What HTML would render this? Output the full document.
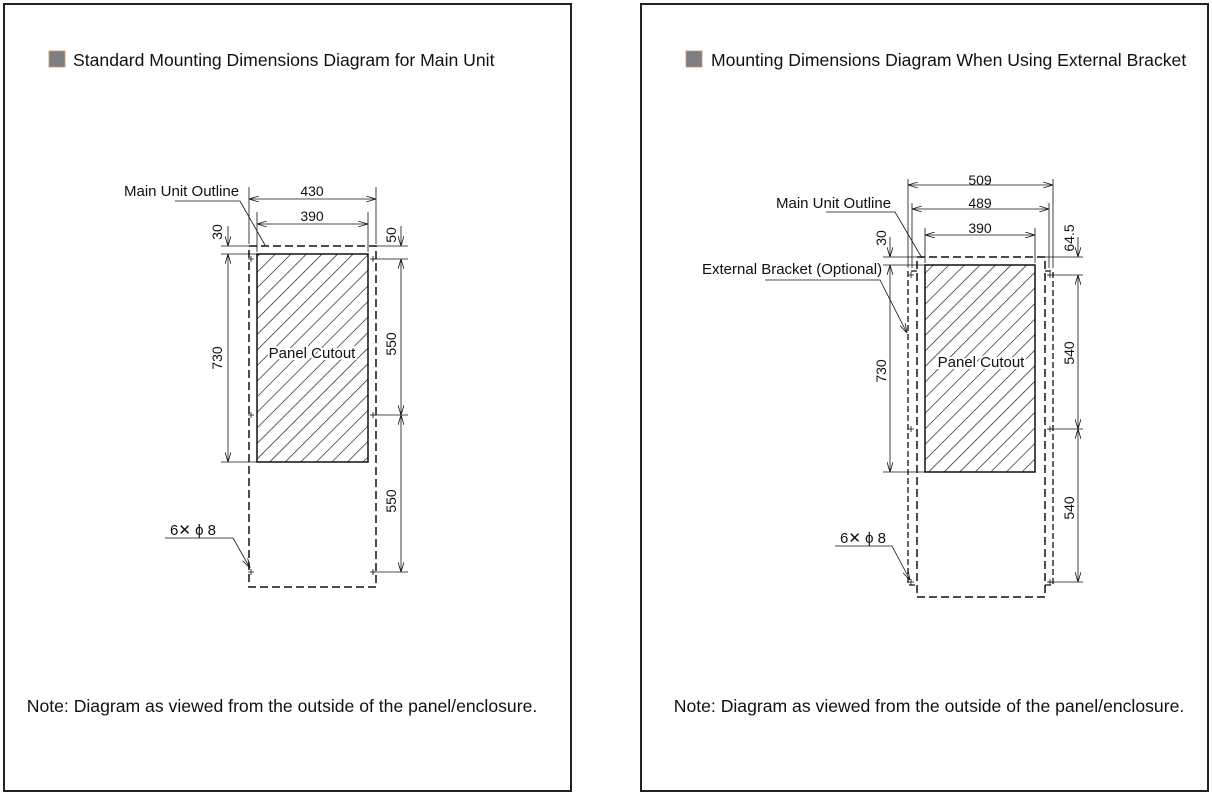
<!DOCTYPE html>
<html><head><meta charset="utf-8"><style>
html,body{margin:0;padding:0;background:#fff;}
svg{display:block;}
text{font-family:"Liberation Sans",sans-serif;fill:#111;}
.t{font-size:17.6px;}
.d{font-size:14px;}
.l{font-size:15px;}
</style></head><body>
<svg width="1212" height="794" viewBox="0 0 1212 794" xmlns="http://www.w3.org/2000/svg">
<defs>
<pattern id="h" patternUnits="userSpaceOnUse" width="11" height="11" patternTransform="rotate(45)">
<line x1="0" y1="0" x2="0" y2="11" stroke="#111" stroke-width="1.3"/>
</pattern>
<marker id="a" viewBox="0 0 10 6" refX="10" refY="3" markerWidth="10" markerHeight="6" orient="auto-start-reverse" markerUnits="userSpaceOnUse">
<path d="M0,0 L10,3 L0,6" fill="none" stroke="#111" stroke-width="0.8"/>
</marker>
</defs>
<rect x="4" y="4" width="567" height="787" fill="none" stroke="#222" stroke-width="2"/>
<rect x="641" y="4" width="567" height="787" fill="none" stroke="#222" stroke-width="2"/>

<!-- LEFT -->
<rect x="49" y="51" width="16" height="16" fill="#7d7d82" stroke="#c89a70" stroke-width="0.8"/>
<text x="73" y="66" class="t">Standard Mounting Dimensions Diagram for Main Unit</text>
<rect x="257" y="254" width="111" height="208" fill="url(#h)" stroke="#111" stroke-width="1.5"/>
<text x="312" y="358" class="l" text-anchor="middle" stroke="#fff" stroke-width="4" paint-order="stroke">Panel Cutout</text>
<path d="M249,246 H376 V587 H249 Z" fill="none" stroke="#111" stroke-width="1.5" stroke-dasharray="8,4"/>
<g stroke="#111" stroke-width="0.8" fill="none">
<line x1="249" y1="187" x2="249" y2="244"/><line x1="376" y1="187" x2="376" y2="244"/>
<line x1="249" y1="199" x2="376" y2="199" marker-start="url(#a)" marker-end="url(#a)"/>
<line x1="257" y1="212" x2="257" y2="252"/><line x1="368" y1="212" x2="368" y2="252"/>
<line x1="257" y1="224" x2="368" y2="224" marker-start="url(#a)" marker-end="url(#a)"/>
<line x1="221" y1="246" x2="250" y2="246"/><line x1="221" y1="254" x2="257" y2="254"/><line x1="221" y1="462" x2="257" y2="462"/>
<line x1="228" y1="226" x2="228" y2="246" marker-end="url(#a)"/>
<line x1="228" y1="254" x2="228" y2="462" marker-start="url(#a)" marker-end="url(#a)"/>
<line x1="376" y1="246" x2="408" y2="246"/><line x1="372" y1="259" x2="408" y2="259"/>
<line x1="372" y1="415" x2="408" y2="415"/><line x1="372" y1="572" x2="408" y2="572"/>
<line x1="401" y1="226" x2="401" y2="246" marker-end="url(#a)"/>
<line x1="401" y1="259" x2="401" y2="415" marker-start="url(#a)" marker-end="url(#a)"/>
<line x1="401" y1="415" x2="401" y2="572" marker-start="url(#a)" marker-end="url(#a)"/>
<path d="M175,201 H240 L265,245"/>
<path d="M165,538 H233 L250,568" marker-end="url(#a)"/>
<path d="M248,259h6M251,256v6M370,259h6M373,256v6M248,415h6M251,412v6M370,415h6M373,412v6M248,572h6M251,569v6M370,572h6M373,569v6"/>
</g>
<text x="312" y="196" class="d" text-anchor="middle">430</text>
<text x="312" y="221" class="d" text-anchor="middle">390</text>
<text x="124" y="196" class="l">Main Unit Outline</text>
<text transform="translate(222,232) rotate(-90)" class="d" text-anchor="middle">30</text>
<text transform="translate(222,358) rotate(-90)" class="d" text-anchor="middle">730</text>
<text transform="translate(396,235) rotate(-90)" class="d" text-anchor="middle">50</text>
<text transform="translate(396,344) rotate(-90)" class="d" text-anchor="middle">550</text>
<text transform="translate(396,501) rotate(-90)" class="d" text-anchor="middle">550</text>
<text x="170" y="535" class="l">6✕ ϕ 8</text>
<text x="282" y="712" class="t" text-anchor="middle">Note: Diagram as viewed from the outside of the panel/enclosure.</text>

<!-- RIGHT -->
<rect x="686" y="51" width="16" height="16" fill="#7d7d82" stroke="#c89a70" stroke-width="0.8"/>
<text x="711" y="66" class="t">Mounting Dimensions Diagram When Using External Bracket</text>
<rect x="925" y="265" width="110" height="207" fill="url(#h)" stroke="#111" stroke-width="1.5"/>
<text x="981" y="367" class="l" text-anchor="middle" stroke="#fff" stroke-width="4" paint-order="stroke">Panel Cutout</text>
<path d="M917,257 H1045 V597 H917 Z" fill="none" stroke="#111" stroke-width="1.5" stroke-dasharray="8,4"/>
<path d="M917,271 H908 V585 H917 M1045,271 H1053 V585 H1045" fill="none" stroke="#111" stroke-width="1.3" stroke-dasharray="6,3"/>
<g stroke="#111" stroke-width="0.8" fill="none">
<line x1="908" y1="179" x2="908" y2="268"/><line x1="1053" y1="179" x2="1053" y2="268"/>
<line x1="908" y1="185" x2="1053" y2="185" marker-start="url(#a)" marker-end="url(#a)"/>
<line x1="912" y1="203" x2="912" y2="268"/><line x1="1049" y1="203" x2="1049" y2="268"/>
<line x1="912" y1="209" x2="1049" y2="209" marker-start="url(#a)" marker-end="url(#a)"/>
<line x1="925" y1="228" x2="925" y2="263"/><line x1="1035" y1="228" x2="1035" y2="263"/>
<line x1="925" y1="235" x2="1035" y2="235" marker-start="url(#a)" marker-end="url(#a)"/>
<line x1="883" y1="257" x2="917" y2="257"/><line x1="883" y1="265" x2="925" y2="265"/><line x1="883" y1="472" x2="925" y2="472"/>
<line x1="890" y1="237" x2="890" y2="257" marker-end="url(#a)"/>
<line x1="890" y1="265" x2="890" y2="472" marker-start="url(#a)" marker-end="url(#a)"/>
<line x1="1045" y1="257" x2="1083" y2="257"/><line x1="1048" y1="275" x2="1083" y2="275"/>
<line x1="1048" y1="429" x2="1083" y2="429"/><line x1="1048" y1="582" x2="1083" y2="582"/>
<line x1="1078" y1="237" x2="1078" y2="257" marker-end="url(#a)"/>
<line x1="1078" y1="275" x2="1078" y2="429" marker-start="url(#a)" marker-end="url(#a)"/>
<line x1="1078" y1="429" x2="1078" y2="582" marker-start="url(#a)" marker-end="url(#a)"/>
<path d="M826,212 H895 L922,258"/>
<path d="M765,280 H880 L907,333" marker-end="url(#a)"/>
<path d="M835,546 H892 L910,580" marker-end="url(#a)"/>
<path d="M908,275h6M911,272v6M1047,275h6M1050,272v6M908,429h6M911,426v6M1047,429h6M1050,426v6M908,582h6M911,579v6M1047,582h6M1050,579v6"/>
</g>
<text x="980" y="185" class="d" text-anchor="middle">509</text>
<text x="980" y="208" class="d" text-anchor="middle">489</text>
<text x="980" y="233" class="d" text-anchor="middle">390</text>
<text x="776" y="208" class="l">Main Unit Outline</text>
<text x="702" y="274" class="l">External Bracket (Optional)</text>
<text transform="translate(886,238) rotate(-90)" class="d" text-anchor="middle">30</text>
<text transform="translate(886,371) rotate(-90)" class="d" text-anchor="middle">730</text>
<text transform="translate(1074,238) rotate(-90)" class="d" text-anchor="middle">64.5</text>
<text transform="translate(1074,353) rotate(-90)" class="d" text-anchor="middle">540</text>
<text transform="translate(1074,508) rotate(-90)" class="d" text-anchor="middle">540</text>
<text x="840" y="543" class="l">6✕ ϕ 8</text>
<text x="929" y="712" class="t" text-anchor="middle">Note: Diagram as viewed from the outside of the panel/enclosure.</text>
</svg>
</body></html>
